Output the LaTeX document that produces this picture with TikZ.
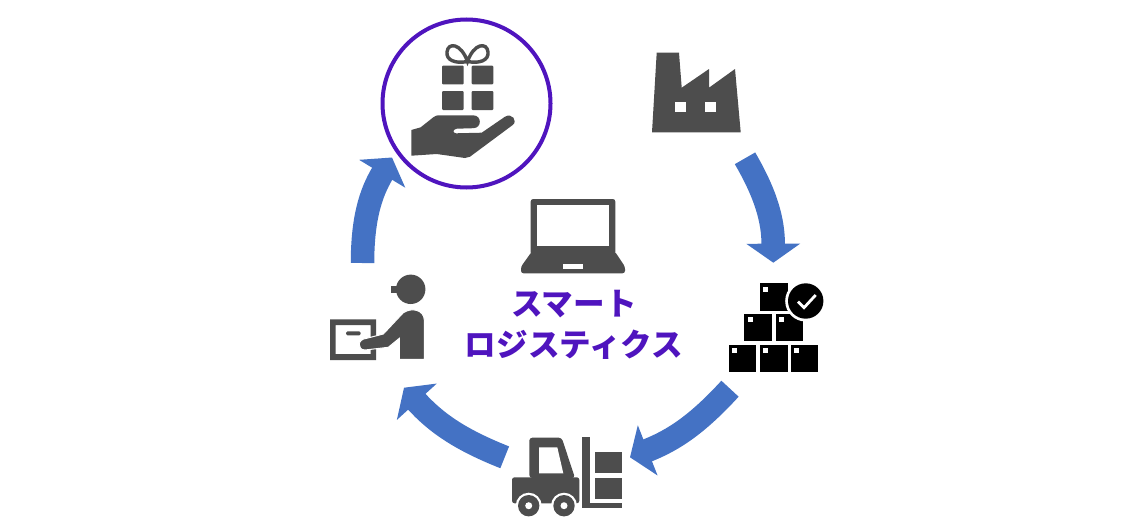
\documentclass[tikz,border=0pt]{standalone}
\usepackage{fontspec}
\usetikzlibrary{arrows.meta}
\newfontfamily\cjkfont{Noto Sans CJK JP}
\definecolor{icongray}{HTML}{4D4D4D}
\definecolor{flowblue}{HTML}{4472C4}
\definecolor{logipurple}{HTML}{4F14BE}
\tikzset{
  flow arrow/.style={draw=flowblue, line width=23.5pt,
    -{Triangle[width=53pt, length=19pt, fill=flowblue]}},
  icon/.style={fill=icongray, draw=none},
  crate/.style={fill=black, draw=none},
  hole/.style={fill=white, draw=none},
}
\begin{document}
\begin{tikzpicture}[x=1pt, y=-1pt]
\useasboundingbox [fill=white] (0,0) rectangle (1134,530);

% gift
\node [circle, draw=logipurple, line width=4pt, minimum size=168pt, inner sep=0pt] (gift) at (466.5,103.5) {};
\foreach \x in {442,471.7}
  \foreach \y/\h in {65.7/18.6,91/19}
    \fill [icon, rounded corners=1pt] (\x,\y) rectangle ++(21.7,\h);
\draw [draw=icongray, line width=3.4pt] (467.5,61.5) .. controls (455,64) and (446,60) .. (447,52)
  .. controls (448,42) and (461,43) .. (467.5,61.5)
  .. controls (474,43) and (487,42) .. (488,52)
  .. controls (489,60) and (480,64) .. (467.5,61.5) -- cycle;
\fill [icon] (411.3,130) -- (420.7,127.3) -- (433.3,117.3) .. controls (436,115.5) .. (440,115.3)
  -- (473.3,115.3) .. controls (482,115.5) and (482,128) .. (473.3,128.2)
  -- (456.7,128.7) .. controls (452.5,129.5) and (452.5,133) .. (456,133.3)
  -- (481.7,132.7) -- (505,116.7) .. controls (512,112.5) and (518,121) .. (512.7,125)
  -- (470,156.7) .. controls (468,158) .. (465,158) -- (436.7,154) -- (411.3,155.7) -- cycle;

% factory
\fill [icon] (656.7,52.7) -- (679,52.7) -- (681.7,87.7) -- (709,69) -- (709,87.7) -- (735,69)
  -- (740.7,132.3) -- (652,132.3) -- cycle;
\foreach \x in {675,705.3}
  \fill [hole] (\x,101.7) rectangle ++(11,10.3);

% pallet of boxes
\foreach \x/\y in {760/283.3, 744.3/314, 775.7/314, 728.7/345, 760/345, 790.5/345} {
  \fill [crate] (\x,\y) rectangle ++(27.5,27.2);
  \fill [hole] (\x+3.3,\y+3.3) rectangle ++(5,5);
}
\fill [white] (805.7,301) circle (20.5);
\fill [black] (805.7,301) circle (17.7);
\draw [white, line width=2.8pt] (798,301.7) -- (804,307.7) -- (815.7,295);

% forklift
\fill [icon, rounded corners=2.5pt] (512,477.3) -- (579.3,477.3) -- (579.3,503.3) -- (512,503.3) -- cycle;
\fill [icon, rounded corners=3pt, even odd rule] (529.3,478) -- (529.3,437.7) -- (561.7,437.7) -- (575,478) -- cycle;
\fill [hole] (539,447.3) -- (557.3,447.3) -- (563.3,473.3) -- (539,473.3) -- cycle;
\fill [icon] (582,436.7) rectangle (590.3,508);
\fill [icon] (582,503.3) rectangle (622,508);
\foreach \y/\h in {452.3/21,477.7/21.6}
  \fill [icon] (595,\y) rectangle ++(26.7,\h);
\foreach \x in {528.7,564} {
  \fill [white] (\x,505.7) circle (13);
  \fill [icongray] (\x,505.7) circle (10.7);
  \fill [white] (\x,505.7) circle (3.5);
}

% person with parcel
\fill [icon, even odd rule] (330,319.3) rectangle (376,360) (335.7,325) rectangle (370.7,354);
\fill [icon, rounded corners=1.5pt] (346,331.3) rectangle (360.7,335.3);
\fill [icon] (410.7,289.3) circle (14.7);
\fill [icon] (390.7,285.7) rectangle (400,292.7);
\filldraw [fill=icongray, draw=white, line width=1pt] (399.3,359.3) -- (399.3,338.3) -- (388.3,347.3) -- (365,350)
  .. controls (357,350) and (357,339) .. (366.7,338.3) -- (383.3,334) -- (403.3,312.7)
  .. controls (412,307) and (424,310) .. (424.3,320) -- (424.3,359.3) -- cycle;

% laptop
\fill [icon, rounded corners=2.5pt] (530.7,199) rectangle (615.3,255);
\fill [hole] (536.7,205) rectangle (609.3,246);
\fill [icon, rounded corners=2.5pt] (531.7,251.7) -- (615,251.7) -- (625,266.7) -- (625,273.3) -- (521,273.3) -- (521,266.7) -- cycle;
\fill [hole] (563.3,264.3) rectangle (582.7,269.3);

\node [align=center, inner sep=0pt, text=logipurple, font=\cjkfont\bfseries\fontsize{31.6pt}{41pt}\selectfont] (title) at (574,325) {スマート\\ロジスティクス};

% flow
\coordinate (factory-out) at (745,158.3);
\coordinate (crates-in) at (773.3,262.7);
\coordinate (crates-out) at (730,388.7);
\coordinate (forklift-in) at (630,457.3);
\coordinate (forklift-out) at (504.7,457.3);
\coordinate (person-in) at (404,387.7);
\coordinate (person-out) at (362.5,263);
\coordinate (gift-in) at (392,157.5);

\draw [flow arrow] (factory-out) to [bend left=15] (crates-in);
\draw [flow arrow] (crates-out) to [bend left=13] (forklift-in);
\draw [flow arrow] (forklift-out) to [bend left=13] (person-in);
\draw [flow arrow] (person-out) to [bend left=15.5] (gift-in);
\end{tikzpicture}
\end{document}
